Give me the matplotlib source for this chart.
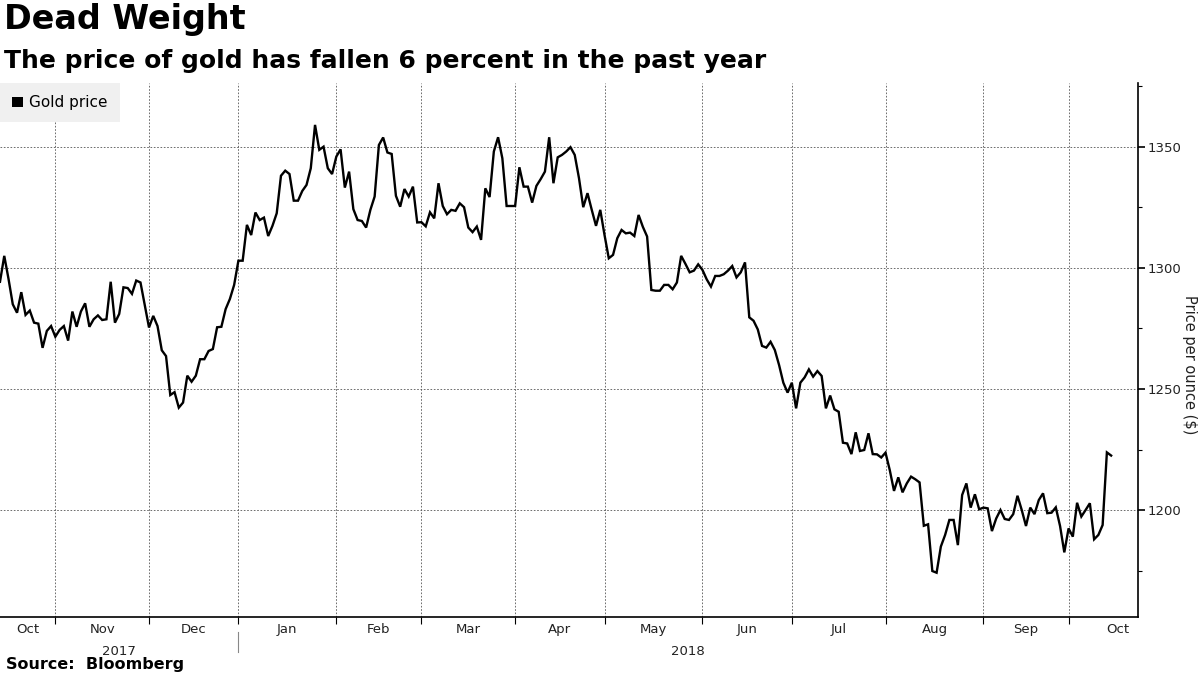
import matplotlib
matplotlib.use("Agg")
import matplotlib.pyplot as plt
from matplotlib.patches import Patch
from matplotlib.ticker import MultipleLocator
import pandas as pd

# daily gold price ($/oz), one value per trading day from 13 Oct 2017
start_date = "2017-10-13"
gold_price = [
    1294.3, 1305.0, 1295.5, 1285.0, 1281.5, 1290.0, 1280.6, 1282.4, 1277.4, 1277.0,
    1267.0, 1274.0, 1276.0, 1271.6, 1274.4, 1276.0, 1270.0, 1282.0, 1275.7, 1282.0,
    1285.4, 1275.7, 1278.8, 1280.4, 1278.5, 1278.8, 1294.3, 1277.4, 1281.0, 1292.0,
    1291.7, 1289.3, 1294.8, 1294.0, 1284.7, 1275.4, 1280.2, 1276.0, 1266.0, 1263.6,
    1247.5, 1248.7, 1242.3, 1244.4, 1255.5, 1253.0, 1255.5, 1262.3, 1262.3, 1265.7,
    1266.5, 1275.5, 1275.7, 1283.0, 1287.2, 1293.0, 1303.0, 1303.0, 1317.8, 1313.6,
    1322.9, 1319.8, 1320.8, 1313.2, 1317.4, 1322.6, 1338.1, 1340.2, 1338.8, 1327.8,
    1327.8, 1331.8, 1334.3, 1341.2, 1359.1, 1348.8, 1350.1, 1341.2, 1338.8, 1346.0,
    1349.0, 1333.2, 1339.8, 1324.3, 1319.8, 1319.4, 1316.7, 1324.0, 1329.5, 1350.8,
    1353.9, 1347.7, 1347.1, 1329.8, 1325.3, 1332.6, 1329.5, 1333.6, 1318.8, 1318.9,
    1317.2, 1323.0, 1320.5, 1335.0, 1325.6, 1322.2, 1324.0, 1323.6, 1326.7, 1325.1,
    1316.7, 1314.8, 1317.1, 1311.6, 1332.9, 1329.3, 1348.1, 1354.0, 1345.3, 1325.6,
    1325.6, 1325.6, 1341.6, 1333.6, 1333.6, 1327.0, 1333.9, 1336.7, 1339.8, 1354.0,
    1335.0, 1345.7, 1346.7, 1348.1, 1349.9, 1346.7, 1337.1, 1325.1, 1330.9, 1324.0,
    1317.4, 1324.0, 1313.6, 1304.0, 1305.4, 1312.3, 1315.7, 1314.3, 1314.6, 1313.2,
    1321.9, 1317.0, 1313.0, 1290.9, 1290.6, 1290.6, 1293.0, 1293.0, 1291.2, 1294.0,
    1305.0, 1301.7, 1298.2, 1298.9, 1301.5, 1299.2, 1295.3, 1292.3, 1296.7, 1296.7,
    1297.4, 1298.9, 1300.8, 1296.1, 1298.2, 1302.3, 1279.6, 1278.2, 1274.6, 1267.8,
    1267.1, 1269.5, 1266.1, 1259.9, 1252.6, 1248.5, 1252.6, 1242.0, 1252.6, 1254.8,
    1258.1, 1255.1, 1257.4, 1255.4, 1242.0, 1247.3, 1241.6, 1240.6, 1227.8, 1227.5,
    1223.1, 1232.1, 1224.4, 1224.8, 1231.7, 1223.1, 1223.0, 1221.7, 1223.7, 1216.5,
    1207.9, 1213.5, 1207.3, 1211.0, 1213.8, 1212.7, 1211.4, 1193.5, 1194.1, 1174.8,
    1174.1, 1184.9, 1189.7, 1195.9, 1195.9, 1185.5, 1206.2, 1211.0, 1201.0, 1206.5,
    1200.3, 1201.0, 1200.7, 1191.3, 1196.5, 1200.0, 1196.3, 1195.9, 1198.3, 1205.9,
    1200.0, 1193.4, 1201.0, 1198.3, 1204.1, 1206.9, 1198.7, 1198.9, 1201.1, 1193.4,
    1182.5, 1192.4, 1189.0, 1203.0, 1197.3, 1200.0, 1202.8, 1187.9, 1189.7, 1193.8,
    1223.8, 1222.5,
]

y_ticks = [1200, 1250, 1300, 1350]

dates = pd.bdate_range(start_date, periods=len(gold_price))
idx = list(range(len(gold_price)))

# full set of trading days per month (used to centre month labels)
all_days = pd.bdate_range("2017-10-01", "2018-10-31")
offset = list(all_days).index(dates[0])
month_groups = pd.Series(range(len(all_days)), index=all_days).groupby(
    [all_days.year, all_days.month])

x_min, x_max = 0, 267.3

fig = plt.figure(figsize=(12, 6.75), dpi=100)
ax = fig.add_axes([0, 0.0859, 0.9483, 0.7911])

ax.plot(idx, gold_price, color="black", lw=1.7, solid_joinstyle="miter", zorder=3)

ax.set_xlim(x_min, x_max)
ax.set_ylim(1155.8, 1376.4)

# month boundaries & labels
bounds = []
labels = []
for (yr, mo), s in month_groups:
    first = s.iloc[0] - offset
    last = s.iloc[-1] - offset + 1
    if first > x_min:
        bounds.append(first)
    centre = (max(first, x_min) + last) / 2
    labels.append((centre, pd.Timestamp(year=yr, month=mo, day=1).strftime("%b"), yr))

ax.set_xticks(bounds)
ax.set_xticklabels([])
ax.tick_params(axis="x", length=5, width=0.8, direction="out", color="black")
for c, name, yr in labels:
    if x_min <= c <= x_max + 2:
        ax.text(c, -0.012, name, transform=ax.get_xaxis_transform(), ha="center",
                va="top", fontsize=9.5, color="#222222")

jan_pos = [b for b in bounds if dates[int(b)].month == 1][0]
ax.text(jan_pos / 2, -0.052, "2017", transform=ax.get_xaxis_transform(),
        ha="center", va="top", fontsize=9.5, color="#222222")
ax.text((jan_pos + x_max) / 2, -0.052, "2018", transform=ax.get_xaxis_transform(),
        ha="center", va="top", fontsize=9.5, color="#222222")
ax.plot([jan_pos, jan_pos], [-0.028, -0.065], transform=ax.get_xaxis_transform(),
        color="#888888", lw=0.8, clip_on=False)

# y axis on the right
ax.yaxis.tick_right()
ax.set_yticks(y_ticks)
ax.yaxis.set_minor_locator(MultipleLocator(25))
ax.tick_params(axis="y", which="major", length=5, width=1.2, direction="out",
               labelsize=9.5, labelcolor="#222222", pad=2)
ax.tick_params(axis="y", which="minor", length=3, width=0.8, direction="out")
fig.text(0.9915, 0.459, "Price per ounce ($)", rotation=270, fontsize=10.5,
         color="#222222", ha="center", va="center")

for sp in ["top", "left"]:
    ax.spines[sp].set_visible(False)
ax.spines["right"].set_linewidth(1.2)
ax.spines["bottom"].set_linewidth(1.2)

ax.grid(True, which="major", color="#555555", linestyle=(0, (2, 2)), lw=0.6)

leg = ax.legend(handles=[Patch(facecolor="black", label="Gold price")],
                loc="upper left", bbox_to_anchor=(0, 1), borderaxespad=0,
                frameon=True, fancybox=False, handlelength=0.7, handleheight=0.7,
                handletextpad=0.4, fontsize=11, borderpad=0.8)
leg.get_frame().set_facecolor("#f0f0f0")
leg.get_frame().set_edgecolor("none")
leg.get_frame().set_alpha(1)

fig.text(0.003, 0.995, "Dead Weight", fontsize=24, fontweight="bold", va="top", ha="left")
fig.text(0.003, 0.928, "The price of gold has fallen 6 percent in the past year",
         fontsize=18, fontweight="bold", va="top", ha="left")
fig.text(0.005, 0.004, "Source:  Bloomberg", fontsize=11.5, fontweight="bold",
         va="bottom", ha="left")

fig.savefig("out.png", dpi=100)
